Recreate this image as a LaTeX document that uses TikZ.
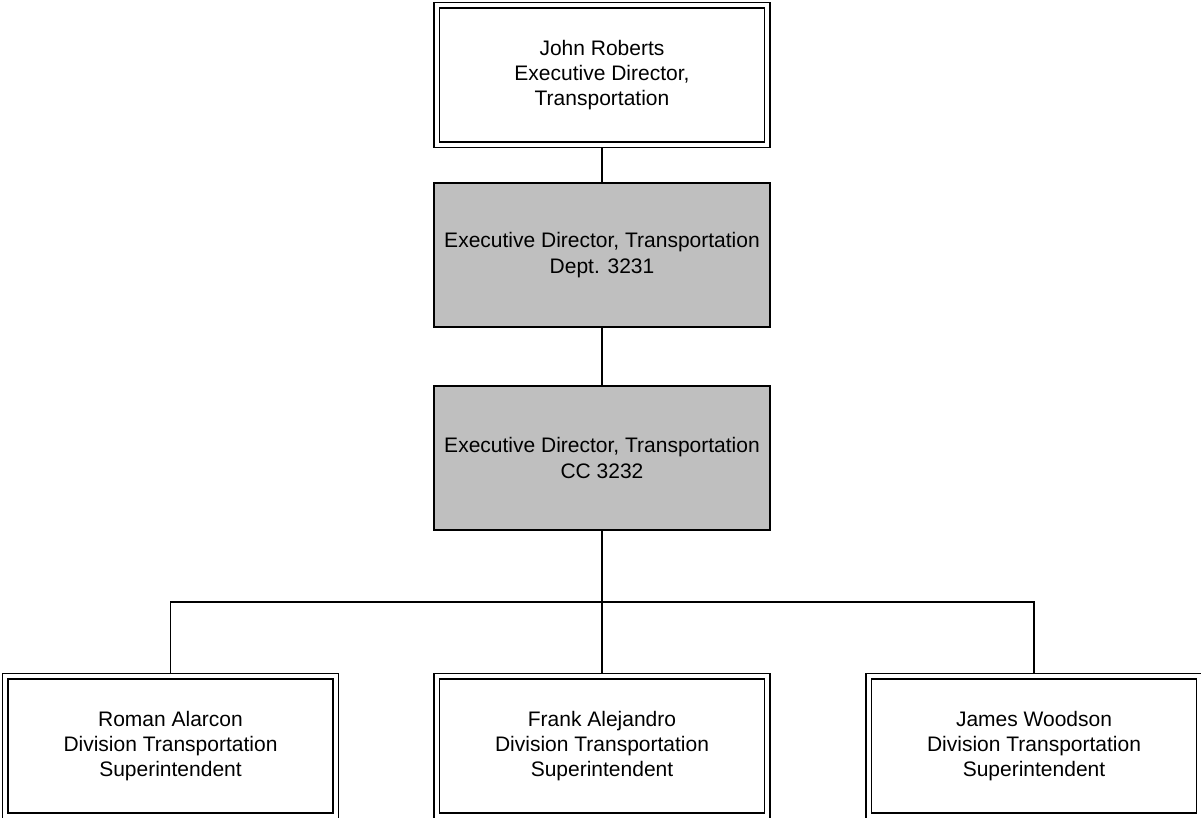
\documentclass[tikz,border=0pt]{standalone}
\usepackage{fontspec}
\setmainfont{Liberation Sans}
\usetikzlibrary{positioning}

\tikzset{
  personbox/.style={draw,double,line width=1.4pt,double distance=3.9pt,fill=white,
    minimum width=330.5pt,minimum height=139.5pt,inner sep=0pt,outer sep=3.35pt,
    align=center,font=\fontsize{21}{25.3}\selectfont},
  deptbox/.style={draw,line width=1.5pt,fill=black!25,
    minimum width=336pt,minimum height=144pt,inner sep=0pt,outer sep=0pt,
    align=center,font=\fontsize{21}{25.3}\selectfont},
  link/.style={line width=1.5pt}
}

\begin{document}
\begin{tikzpicture}[x=1pt,y=-1pt]
\path[use as bounding box] (0,0) rectangle (1201,817);
\node[personbox] (roberts) at (602,75) {John Roberts\\Executive Director,\\Transportation};
\node[deptbox] (dept) at (602,255) {Executive Director, Transportation\\Dept. 3231};
\node[deptbox] (cc) at (602,458) {Executive Director, Transportation\\CC 3232};
\node[personbox] (alarcon) at (170.5,746) {Roman Alarcon\\Division Transportation\\Superintendent};
\node[personbox] (alejandro) at (602,746) {Frank Alejandro\\Division Transportation\\Superintendent};
\node[personbox] (woodson) at (1034,746) {James Woodson\\Division Transportation\\Superintendent};
\coordinate (bus) at (602,602);
\draw[link] (roberts) -- (dept);
\draw[link] (dept) -- (cc);
\draw[link] (cc) -- (bus);
\draw[link] (bus) -| (alarcon.north);
\draw[link] (bus) -- (alejandro.north);
\draw[link] (bus) -| (woodson.north);
\end{tikzpicture}
\end{document}
